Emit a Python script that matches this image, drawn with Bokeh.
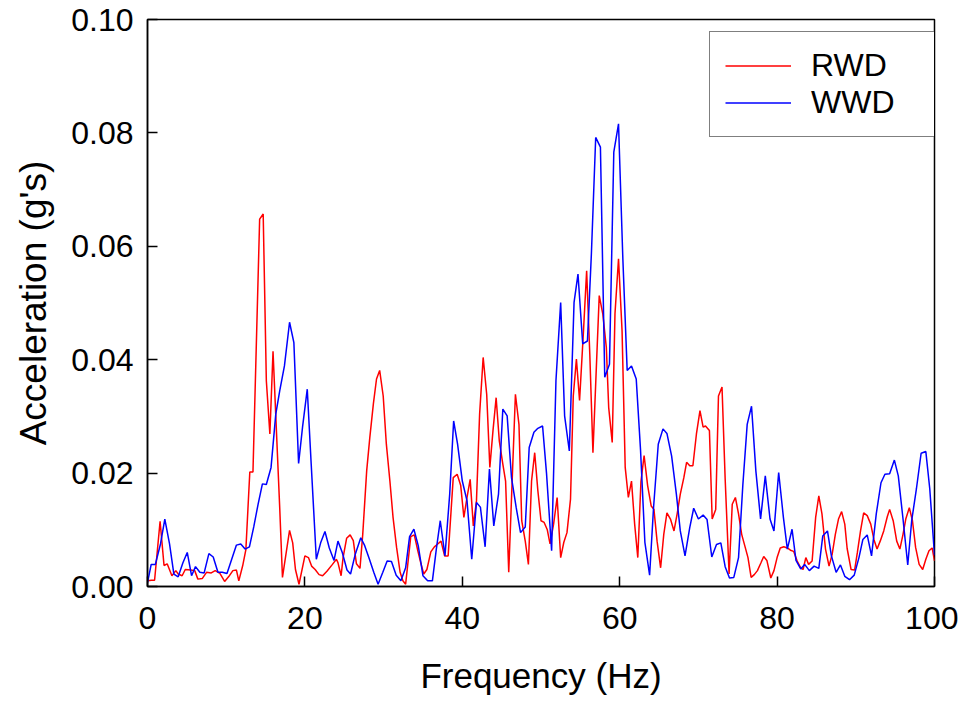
from bokeh.plotting import figure
from bokeh.models import Range1d, FixedTicker, NumeralTickFormatter, Legend, LegendItem
from bokeh.embed import file_html
from bokeh.resources import INLINE

# RWD series (frequency in Hz, acceleration in g's)
freq_rwd = [0.0, 0.5, 0.9, 1.6, 2.1, 2.5, 3.1, 3.6, 3.9, 4.4, 4.8, 5.5, 6.0, 6.4, 6.95, 7.5, 8.1, 8.6,
            9.2, 9.8, 10.3, 10.85, 11.3, 11.6, 12.1, 12.5, 13.0, 13.4, 14.25, 14.7, 15.1, 15.55, 15.95,
            16.8, 17.15, 18.05, 18.45, 18.8, 19.25, 20.0, 20.45, 20.85, 21.3, 21.8, 22.25, 22.8, 23.5,
            24.0, 24.2, 24.6, 24.85, 25.3, 25.75, 26.15, 26.55, 27.0, 27.35, 27.85, 28.25, 28.7, 29.1,
            29.5, 29.95, 30.35, 30.8, 31.2, 31.65, 32.1, 32.45, 32.8, 33.45, 33.9, 34.35, 34.75, 35.1,
            35.5, 36.0, 36.45, 36.8, 37.3, 37.75, 38.2, 38.85, 39.35, 39.8, 40.2, 40.6, 41.0, 41.4,
            41.8, 42.2, 42.65, 43.1, 43.5, 43.9, 44.3, 44.7, 45.15, 45.5, 45.9, 46.75, 47.2, 47.55,
            48.0, 48.4, 48.8, 49.2, 49.6, 50.0, 50.4, 50.8, 51.15, 51.6, 52.05, 52.5, 52.9, 53.3,
            53.75, 54.1, 54.5, 54.9, 55.4, 55.8, 56.2, 56.6, 57.0, 57.4, 57.85, 58.3, 58.6, 59.05,
            59.4, 59.85, 60.3, 60.7, 61.1, 61.5, 61.9, 62.3, 62.7, 63.1, 63.55, 64.0, 64.35, 64.75,
            65.2, 65.6, 66.0, 66.45, 66.9, 67.3, 67.7, 68.15, 68.5, 68.9, 69.3, 69.75, 70.2, 70.6,
            70.9, 71.4, 71.75, 72.2, 72.55, 73.0, 73.4, 73.9, 74.3, 74.7, 75.1, 75.5, 75.95, 76.3,
            76.7, 77.1, 77.5, 77.95, 78.3, 78.7, 79.2, 79.6, 80.0, 80.4, 80.85, 81.3, 81.7, 82.1,
            82.55, 83.0, 83.3, 83.65, 84.0, 84.45, 84.9, 85.3, 85.7, 86.15, 86.6, 87.0, 87.4, 87.8,
            88.2, 88.6, 88.9, 89.4, 89.85, 90.2, 90.6, 91.0, 91.45, 91.9, 92.3, 92.7, 93.1, 93.55,
            94.0, 94.3, 94.75, 95.2, 95.6, 96.0, 96.35, 96.8, 97.2, 97.6, 98.05, 98.5, 98.9, 99.3,
            99.7, 100.0]
acc_rwd = [0.0010, 0.0011, 0.0011, 0.0115, 0.0037, 0.0040, 0.0019, 0.0028, 0.0022, 0.0019, 0.0030,
           0.0029, 0.0028, 0.0013, 0.0014, 0.0025, 0.0024, 0.0028, 0.0023, 0.0009, 0.0017, 0.0028,
           0.0029, 0.0010, 0.0037, 0.0065, 0.0202, 0.0202, 0.0648, 0.0657, 0.0363, 0.0269, 0.0415,
           0.0139, 0.0016, 0.0099, 0.0077, 0.0030, 0.0004, 0.0054, 0.0051, 0.0036, 0.0030, 0.0021,
           0.0019, 0.0027, 0.0039, 0.0048, 0.0042, 0.0019, 0.0051, 0.0085, 0.0091, 0.0081, 0.0040,
           0.0032, 0.0092, 0.0204, 0.0263, 0.0322, 0.0366, 0.0381, 0.0336, 0.0251, 0.0186, 0.0122,
           0.0069, 0.0025, 0.0010, 0.0004, 0.0088, 0.0091, 0.0063, 0.0040, 0.0022, 0.0030, 0.0061,
           0.0070, 0.0074, 0.0080, 0.0054, 0.0054, 0.0192, 0.0198, 0.0178, 0.0122, 0.0157, 0.0189,
           0.0107, 0.0151, 0.0304, 0.0404, 0.0339, 0.0210, 0.0275, 0.0333, 0.0257, 0.0216, 0.0186,
           0.0025, 0.0339, 0.0286, 0.0116, 0.0080, 0.0039, 0.0186, 0.0236, 0.0169, 0.0116, 0.0113,
           0.0100, 0.0075, 0.0110, 0.0157, 0.0051, 0.0078, 0.0095, 0.0154, 0.0336, 0.0401, 0.0328,
           0.0451, 0.0557, 0.0410, 0.0236, 0.0375, 0.0513, 0.0481, 0.0422, 0.0316, 0.0254, 0.0481,
           0.0578, 0.0451, 0.0210, 0.0157, 0.0186, 0.0110, 0.0051, 0.0185, 0.0231, 0.0178, 0.0142,
           0.0136, 0.0080, 0.0033, 0.0092, 0.0130, 0.0119, 0.0098, 0.0128, 0.0163, 0.0192, 0.0219,
           0.0213, 0.0213, 0.0269, 0.0310, 0.0281, 0.0283, 0.0275, 0.0119, 0.0136, 0.0336, 0.0352,
           0.0190, 0.0022, 0.0145, 0.0157, 0.0128, 0.0092, 0.0069, 0.0051, 0.0016, 0.0021, 0.0028,
           0.0042, 0.0053, 0.0046, 0.0015, 0.0028, 0.0051, 0.0068, 0.0070, 0.0068, 0.0064, 0.0062,
           0.0045, 0.0033, 0.0030, 0.0051, 0.0039, 0.0045, 0.0122, 0.0160, 0.0128, 0.0066, 0.0036,
           0.0057, 0.0092, 0.0119, 0.0132, 0.0110, 0.0067, 0.0030, 0.0029, 0.0060, 0.0098, 0.0130,
           0.0125, 0.0110, 0.0083, 0.0066, 0.0080, 0.0098, 0.0123, 0.0136, 0.0116, 0.0080, 0.0066,
           0.0092, 0.0119, 0.0139, 0.0116, 0.0069, 0.0039, 0.0030, 0.0048, 0.0063, 0.0068, 0.0045]

# WWD series
freq_wwd = [0.0, 0.47, 1.0, 1.65, 2.2, 2.8, 3.35, 3.9, 4.5, 5.05, 5.6, 6.1, 6.65, 7.2, 7.8, 8.35, 8.95,
            9.5, 10.1, 10.7, 11.3, 11.85, 12.4, 12.95, 13.5, 14.05, 14.6, 15.1, 15.7, 16.3, 16.8, 17.4,
            18.05, 18.6, 19.2, 19.7, 20.3, 20.8, 21.45, 22.0, 22.55, 23.1, 23.7, 24.2, 24.75, 25.35,
            25.8, 26.4, 27.1, 27.6, 28.2, 28.75, 29.3, 29.9, 30.45, 31.0, 31.6, 32.2, 32.8, 33.3,
            33.85, 34.4, 35.0, 35.6, 36.2, 36.7, 37.2, 37.8, 38.4, 38.9, 39.4, 40.0, 40.6, 41.2,
            41.8, 42.3, 42.9, 43.45, 44.0, 44.6, 45.15, 45.7, 46.25, 46.85, 47.4, 48.0, 48.5, 49.1,
            49.6, 50.2, 50.7, 51.35, 51.9, 52.5, 53.0, 53.6, 54.2, 54.7, 55.3, 55.9, 56.4, 56.95,
            57.55, 58.1, 58.7, 59.25, 59.85, 60.4, 60.95, 61.5, 62.1, 62.65, 63.2, 63.8, 64.3, 64.9,
            65.5, 66.0, 66.6, 67.2, 67.7, 68.3, 68.9, 69.4, 70.0, 70.6, 71.1, 71.7, 72.3, 72.85,
            73.4, 73.95, 74.5, 75.1, 75.65, 76.2, 76.75, 77.3, 77.9, 78.5, 79.1, 79.6, 80.2, 80.8,
            81.3, 81.9, 82.4, 83.0, 83.5, 84.1, 84.7, 85.3, 85.8, 86.4, 86.9, 87.5, 88.05, 88.6,
            89.2, 89.8, 90.4, 90.9, 91.45, 92.0, 92.6, 93.2, 93.7, 94.3, 94.9, 95.4, 96.0, 96.6,
            97.1, 97.7, 98.3, 98.9, 99.4, 100.0]
acc_wwd = [0.0007, 0.0039, 0.0039, 0.0075, 0.0119, 0.0075, 0.0022, 0.0017, 0.0042, 0.0060, 0.0019,
           0.0035, 0.0025, 0.0024, 0.0058, 0.0052, 0.0025, 0.0025, 0.0023, 0.0048, 0.0073, 0.0075,
           0.0066, 0.0070, 0.0105, 0.0145, 0.0181, 0.0180, 0.0210, 0.0304, 0.0345, 0.0389, 0.0466,
           0.0430, 0.0217, 0.0281, 0.0348, 0.0216, 0.0048, 0.0077, 0.0097, 0.0068, 0.0046, 0.0080,
           0.0060, 0.0029, 0.0022, 0.0057, 0.0086, 0.0072, 0.0048, 0.0025, 0.0004, 0.0025, 0.0045,
           0.0044, 0.0020, 0.0010, 0.0033, 0.0088, 0.0101, 0.0072, 0.0019, 0.0010, 0.0010, 0.0066,
           0.0116, 0.0054, 0.0163, 0.0292, 0.0251, 0.0186, 0.0151, 0.0048, 0.0148, 0.0140, 0.0070,
           0.0207, 0.0107, 0.0163, 0.0313, 0.0301, 0.0192, 0.0139, 0.0095, 0.0105, 0.0245, 0.0272,
           0.0279, 0.0283, 0.0200, 0.0063, 0.0363, 0.0501, 0.0301, 0.0239, 0.0501, 0.0551, 0.0428,
           0.0433, 0.0586, 0.0792, 0.0775, 0.0369, 0.0392, 0.0766, 0.0816, 0.0578, 0.0381, 0.0389,
           0.0366, 0.0240, 0.0078, 0.0020, 0.0139, 0.0251, 0.0278, 0.0270, 0.0230, 0.0163, 0.0098,
           0.0054, 0.0104, 0.0138, 0.0119, 0.0126, 0.0118, 0.0052, 0.0074, 0.0077, 0.0035, 0.0015,
           0.0016, 0.0051, 0.0180, 0.0286, 0.0318, 0.0204, 0.0119, 0.0195, 0.0119, 0.0098, 0.0201,
           0.0122, 0.0066, 0.0101, 0.0046, 0.0031, 0.0039, 0.0028, 0.0036, 0.0032, 0.0089, 0.0098,
           0.0054, 0.0025, 0.0038, 0.0018, 0.0012, 0.0020, 0.0051, 0.0083, 0.0091, 0.0054, 0.0128,
           0.0183, 0.0198, 0.0199, 0.0223, 0.0195, 0.0119, 0.0038, 0.0116, 0.0172, 0.0235, 0.0238,
           0.0172, 0.0055]

x_ticks = [0, 20, 40, 60, 80, 100]
y_ticks = [0.00, 0.02, 0.04, 0.06, 0.08, 0.10]
series_names = ["RWD", "WWD"]

FONT = "Liberation Sans"

p = figure(width=958, height=698, output_backend="svg", toolbar_location=None,
           x_range=Range1d(0, 100), y_range=Range1d(0, 0.10),
           min_border_left=147, min_border_right=24, min_border_top=19, min_border_bottom=112)
p.grid.visible = False
p.background_fill_color = "white"
p.border_fill_color = "white"
p.outline_line_color = "black"
p.outline_line_width = 1.5

r1 = p.line(freq_rwd, acc_rwd, line_color="#ff0000", line_width=1.5)
r2 = p.line(freq_wwd, acc_wwd, line_color="#0000ff", line_width=1.5)

for ax in (p.xaxis[0], p.yaxis[0]):
    ax.axis_line_color = "black"
    ax.axis_line_width = 1.5
    ax.major_tick_in = 10
    ax.major_tick_out = 0
    ax.major_tick_line_width = 1.5
    ax.minor_tick_line_color = None
    ax.major_label_text_font = FONT
    ax.major_label_text_font_size = "32px"
    ax.major_label_text_color = "black"
    ax.axis_label_text_font = FONT
    ax.axis_label_text_font_style = "normal"
    ax.axis_label_text_color = "black"

p.xaxis.axis_label_text_font_size = "35px"
p.yaxis.axis_label_text_font_size = "37px"
p.xaxis.ticker = FixedTicker(ticks=x_ticks)
p.yaxis.ticker = FixedTicker(ticks=y_ticks)
p.yaxis.formatter = NumeralTickFormatter(format="0.00")
p.xaxis.axis_label = "Frequency (Hz)"
p.yaxis.axis_label = "Acceleration (g's)"
p.xaxis.major_label_standoff = 20
p.yaxis.major_label_standoff = 14
p.xaxis.axis_label_standoff = 24
p.yaxis.axis_label_standoff = 14

legend = Legend(items=[LegendItem(label=series_names[0], renderers=[r1]),
                       LegendItem(label=series_names[1], renderers=[r2])],
                location=(562, 449))
legend.border_line_color = "black"
legend.border_line_width = 1.2
legend.background_fill_alpha = 1.0
legend.padding = 15
legend.spacing = 0
legend.margin = 0
legend.glyph_width = 66
legend.glyph_height = 31
legend.label_height = 31
legend.label_standoff = 20
legend.label_width = 110
legend.label_text_font = FONT
legend.label_text_font_size = "32px"
legend.label_text_color = "black"
p.add_layout(legend, "center")

open("out.html", "w").write(file_html(p, INLINE))
